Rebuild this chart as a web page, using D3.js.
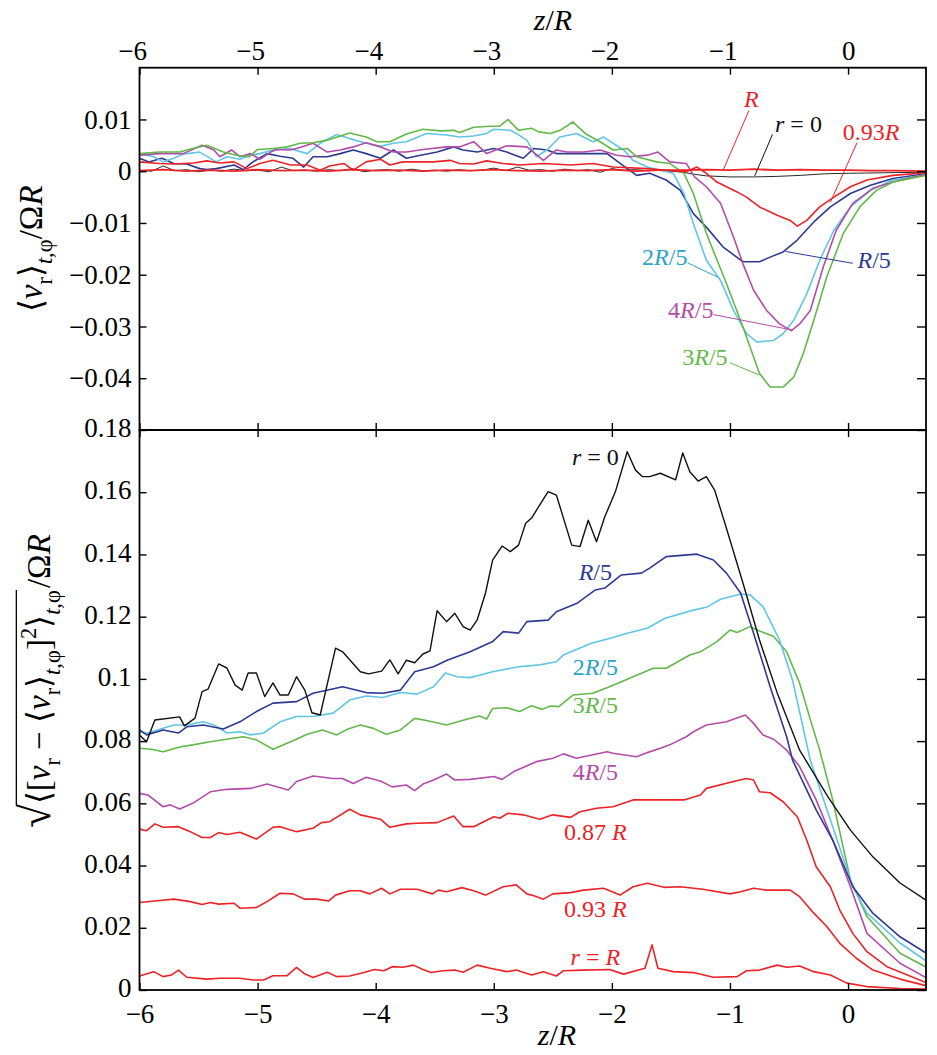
<!DOCTYPE html>
<html>
<head>
<meta charset="utf-8">
<script src="https://cdnjs.cloudflare.com/ajax/libs/d3/7.8.5/d3.min.js"></script>
<style>
  body { margin: 0; background: #fff; }
</style>
</head>
<body>
<div id="chart"></div>
<script>
// axis ticks
const zTicks = [-6, -5, -4, -3, -2, -1, 0]
const zTickLabels = ['−6', '−5', '−4', '−3', '−2', '−1', '0']
const meanTicks = [0.01, 0, -0.01, -0.02, -0.03, -0.04]
const meanTickLabels = ['0.01', '0', '−0.01', '−0.02', '−0.03', '−0.04']
const rmsTicks = [0, 0.02, 0.04, 0.06, 0.08, 0.1, 0.12, 0.14, 0.16, 0.18]
const rmsTickLabels = ['0', '0.02', '0.04', '0.06', '0.08', '0.1', '0.12', '0.14', '0.16', '0.18']

// top panel: <v_r>/(Omega R) against z/R, one list of [z, v] per radius
const meanR = [[-6, 0.0001], [-5.8, 0.0003], [-5.6, 0], [-5.4, 0.0002], [-5.2, 0], [-5, 0.0003], [-4.8, 0.0001], [-4.6, 0.0002], [-4.4, 0], [-4.2, 0.0003], [-4, 0.0001], [-3.8, 0.0002], [-3.6, 0], [-3.4, 0.0002], [-3.2, 0.0001], [-3, 0.0003], [-2.8, 0.0001], [-2.6, 0], [-2.4, 0.0002], [-2.2, 0.0001], [-2, 0.0003], [-1.8, 0], [-1.6, 0.0002], [-1.4, 0.0002], [-1.2, 0.0003], [-1, 0.0002], [-0.8, 0.0004], [-0.6, 0.0002], [-0.4, 0.0003], [-0.2, 0.0002], [0, 0.0002], [0.2, 0.0001], [0.4, 0.0001], [0.66, 0]]
const meanR0 = [[-6, 0.0002], [-5.9, 0], [-5.8, 0.001], [-5.7, 0.0001], [-5.6, 0.0003], [-5.5, -0.0001], [-5.4, 0.0002], [-5.3, 0], [-5.2, 0.0004], [-5.1, 0.0001], [-5, 0.0002], [-4.9, -0.0001], [-4.8, 0.0008], [-4.7, 0.0001], [-4.6, 0.0002], [-4.5, 0], [-4.4, 0.0003], [-4.3, 0.0001], [-4.2, 0.0005], [-4.1, -0.0001], [-4, 0.0002], [-3.9, 0.0003], [-3.8, 0], [-3.7, 0.0004], [-3.6, 0.0001], [-3.5, 0.0002], [-3.4, 0], [-3.3, 0.0003], [-3.2, 0.0001], [-3.1, 0.0002], [-3, 0.0006], [-2.9, 0.0001], [-2.8, 0.0008], [-2.7, 0.0002], [-2.6, 0.0003], [-2.5, 0], [-2.4, 0.0004], [-2.3, 0.0001], [-2.2, 0.0003], [-2.1, -0.0002], [-2, 0.0005], [-1.9, 0.0002], [-1.8, 0.0003], [-1.7, 0.0001], [-1.6, 0.0002], [-1.5, 0], [-1.4, -0.0002], [-1.3, -0.0006], [-1.2, -0.0009], [-1, -0.0011], [-0.8, -0.0011], [-0.6, -0.001], [-0.4, -0.0008], [-0.2, -0.0005], [0, -0.0004], [0.3, -0.0003], [0.66, -0.0002]]
const meanR093 = [[-6, 0.0018], [-5.83, 0.0015], [-5.71, 0.0014], [-5.54, 0.0016], [-5.43, 0.002], [-5.32, 0.0016], [-5.2, 0.0018], [-5.09, 0.0005], [-4.98, 0.0015], [-4.87, 0.0021], [-4.72, 0.0012], [-4.58, 0.0012], [-4.47, 0.0002], [-4.39, 0.001], [-4.27, 0.0015], [-4.19, 0.0002], [-4.08, 0.0018], [-3.96, 0.0023], [-3.88, 0.0012], [-3.77, 0.0018], [-3.51, 0.0018], [-3.37, 0.0021], [-3.29, 0.0015], [-3.17, 0.0014], [-3.06, 0.002], [-2.92, 0.0015], [-2.78, 0.0012], [-2.58, 0.0015], [-2.35, 0.0012], [-2.16, 0.0015], [-1.99, 0.0008], [-1.7, 0.0005], [-1.54, 0.0002], [-1.37, -0.0001], [-1.28, 0.0008], [-1.2, -0.0004], [-1.11, -0.0021], [-1.03, -0.003], [-0.94, -0.004], [-0.86, -0.005], [-0.75, -0.0069], [-0.6, -0.0085], [-0.49, -0.0095], [-0.43, -0.0106], [-0.35, -0.0095], [-0.24, -0.0069], [-0.12, -0.005], [0.02, -0.003], [0.16, -0.0017], [0.38, -0.0008], [0.66, -0.0003]]
const meanR1of5 = [[-6, 0.0025], [-5.92, 0.0018], [-5.81, 0.0025], [-5.71, 0.0015], [-5.6, 0.0014], [-5.49, 0.0005], [-5.43, 0.0003], [-5.35, 0.0005], [-5.2, 0.0012], [-5.12, 0.0003], [-5.04, 0.0018], [-4.92, 0.0034], [-4.81, 0.0029], [-4.7, 0.0025], [-4.61, 0.0008], [-4.53, 0.0028], [-4.41, 0.0028], [-4.3, 0.0034], [-4.19, 0.0041], [-4.08, 0.0034], [-3.96, 0.0025], [-3.85, 0.0041], [-3.74, 0.0025], [-3.62, 0.0031], [-3.48, 0.0037], [-3.34, 0.0047], [-3.26, 0.0041], [-3.14, 0.0037], [-3, 0.0044], [-2.89, 0.0037], [-2.75, 0.0025], [-2.66, 0.0044], [-2.55, 0.0041], [-2.47, 0.0034], [-2.21, 0.0034], [-2.04, 0.0034], [-1.93, 0.0015], [-1.79, -0.0008], [-1.68, -0.0004], [-1.54, -0.0017], [-1.42, -0.0037], [-1.31, -0.0082], [-1.2, -0.0108], [-1.06, -0.0146], [-0.89, -0.0175], [-0.75, -0.0175], [-0.66, -0.0166], [-0.55, -0.0156], [-0.43, -0.0133], [-0.29, -0.0098], [-0.15, -0.0069], [0.02, -0.0043], [0.19, -0.0027], [0.38, -0.0014], [0.66, -0.0005]]
const meanR2of5 = [[-6, 0.0034], [-5.88, 0.0028], [-5.8, 0.0018], [-5.71, 0.0025], [-5.63, 0.0033], [-5.49, 0.0037], [-5.35, 0.0018], [-5.26, 0.0028], [-5.15, 0.0023], [-5.06, 0.0031], [-4.98, 0.0034], [-4.87, 0.0041], [-4.73, 0.0044], [-4.58, 0.0034], [-4.47, 0.0054], [-4.33, 0.0071], [-4.22, 0.0063], [-4.08, 0.0054], [-3.96, 0.0048], [-3.85, 0.0054], [-3.74, 0.0057], [-3.57, 0.0073], [-3.4, 0.007], [-3.29, 0.0066], [-3.17, 0.0068], [-3.06, 0.0073], [-3, 0.0081], [-2.86, 0.0079], [-2.81, 0.0073], [-2.72, 0.006], [-2.64, 0.0028], [-2.55, 0.0041], [-2.44, 0.0066], [-2.3, 0.0073], [-2.16, 0.0057], [-2.07, 0.0066], [-1.99, 0.0054], [-1.9, 0.0041], [-1.82, 0.0021], [-1.7, 0.0008], [-1.59, 0.0002], [-1.48, -0.0004], [-1.39, -0.0043], [-1.31, -0.0101], [-1.2, -0.0172], [-1.08, -0.0211], [-0.97, -0.0269], [-0.86, -0.0314], [-0.77, -0.033], [-0.63, -0.0327], [-0.55, -0.0314], [-0.46, -0.0288], [-0.35, -0.0237], [-0.24, -0.0172], [-0.12, -0.0114], [0.02, -0.0069], [0.19, -0.0037], [0.38, -0.0017], [0.66, -0.0007]]
const meanR3of5 = [[-6, 0.0034], [-5.83, 0.0037], [-5.66, 0.0037], [-5.55, 0.0044], [-5.43, 0.005], [-5.29, 0.0037], [-5.18, 0.0031], [-5.07, 0.0028], [-5, 0.0042], [-4.87, 0.0044], [-4.75, 0.0047], [-4.64, 0.0054], [-4.53, 0.0055], [-4.41, 0.006], [-4.22, 0.0074], [-4.08, 0.0066], [-3.99, 0.0057], [-3.88, 0.0057], [-3.74, 0.0072], [-3.6, 0.0081], [-3.45, 0.0078], [-3.34, 0.0079], [-3.29, 0.0075], [-3.17, 0.0085], [-3.03, 0.0087], [-2.95, 0.0087], [-2.88, 0.01], [-2.79, 0.0079], [-2.68, 0.0083], [-2.62, 0.0076], [-2.52, 0.0073], [-2.44, 0.0079], [-2.33, 0.0095], [-2.22, 0.0072], [-2.1, 0.0057], [-1.99, 0.0041], [-1.87, 0.0044], [-1.79, 0.0028], [-1.62, 0.0018], [-1.51, 0.0015], [-1.39, -0.0004], [-1.31, -0.0043], [-1.2, -0.012], [-1.03, -0.0217], [-0.89, -0.0301], [-0.75, -0.0391], [-0.66, -0.0417], [-0.55, -0.0417], [-0.46, -0.0398], [-0.38, -0.0353], [-0.29, -0.0288], [-0.18, -0.0204], [-0.04, -0.012], [0.1, -0.0069], [0.24, -0.0037], [0.38, -0.0021], [0.66, -0.0008]]
const meanR4of5 = [[-6, 0.0031], [-5.83, 0.0034], [-5.63, 0.0034], [-5.47, 0.005], [-5.37, 0.0041], [-5.32, 0.0028], [-5.22, 0.0041], [-5.15, 0.0028], [-5.06, 0.0034], [-4.98, 0.0023], [-4.89, 0.0037], [-4.84, 0.0042], [-4.73, 0.0041], [-4.67, 0.0044], [-4.53, 0.0054], [-4.41, 0.0037], [-4.3, 0.0041], [-4.19, 0.0047], [-4.08, 0.0055], [-3.96, 0.0047], [-3.85, 0.0037], [-3.74, 0.0037], [-3.6, 0.0042], [-3.4, 0.0047], [-3.29, 0.0047], [-3.17, 0.0057], [-3.06, 0.0034], [-2.89, 0.0049], [-2.72, 0.0047], [-2.58, 0.0021], [-2.47, 0.0041], [-2.38, 0.0037], [-2.24, 0.0037], [-2.1, 0.0041], [-1.96, 0.0031], [-1.85, 0.0028], [-1.7, 0.0031], [-1.61, 0.0037], [-1.51, 0.0018], [-1.37, 0.0015], [-1.3, -0.0011], [-1.2, -0.003], [-1.08, -0.0062], [-0.97, -0.0127], [-0.89, -0.0179], [-0.8, -0.023], [-0.69, -0.0269], [-0.58, -0.0295], [-0.48, -0.0308], [-0.41, -0.0295], [-0.32, -0.0269], [-0.21, -0.0185], [-0.1, -0.0114], [0.04, -0.0062], [0.21, -0.0033], [0.38, -0.0021], [0.66, -0.0006]]

// bottom panel: rms fluctuation of v_r /(Omega R)
const rmsR0 = [[-6, 0.082], [-5.94, 0.0798], [-5.87, 0.0868], [-5.66, 0.0878], [-5.62, 0.0849], [-5.53, 0.0874], [-5.47, 0.0959], [-5.42, 0.0967], [-5.33, 0.1048], [-5.26, 0.1035], [-5.19, 0.098], [-5.13, 0.0964], [-5.08, 0.1019], [-5.01, 0.1019], [-4.94, 0.0943], [-4.87, 0.0987], [-4.81, 0.0948], [-4.74, 0.0948], [-4.67, 0.1007], [-4.6, 0.0964], [-4.54, 0.0891], [-4.47, 0.0884], [-4.34, 0.1099], [-4.28, 0.1087], [-4.13, 0.1023], [-4.06, 0.1016], [-3.95, 0.1025], [-3.88, 0.1061], [-3.81, 0.1016], [-3.74, 0.106], [-3.67, 0.1052], [-3.6, 0.108], [-3.54, 0.109], [-3.48, 0.1219], [-3.4, 0.1184], [-3.33, 0.1211], [-3.26, 0.1168], [-3.2, 0.1157], [-3.14, 0.119], [-3.07, 0.1276], [-3.01, 0.1382], [-2.93, 0.1427], [-2.86, 0.1409], [-2.79, 0.143], [-2.73, 0.15], [-2.68, 0.1517], [-2.54, 0.1602], [-2.47, 0.1591], [-2.34, 0.143], [-2.27, 0.1425], [-2.2, 0.151], [-2.13, 0.1441], [-2.06, 0.1521], [-1.97, 0.1602], [-1.87, 0.173], [-1.8, 0.1671], [-1.74, 0.165], [-1.68, 0.165], [-1.59, 0.1661], [-1.46, 0.164], [-1.4, 0.1726], [-1.34, 0.1666], [-1.27, 0.1636], [-1.2, 0.165], [-1.13, 0.1607], [-1.03, 0.1484], [-0.89, 0.1308], [-0.75, 0.1125], [-0.6, 0.0955], [-0.41, 0.0771], [-0.17, 0.0621], [0.02, 0.0514], [0.21, 0.0428], [0.44, 0.0344], [0.66, 0.0289]]
const rmsR1of5 = [[-6, 0.0836], [-5.94, 0.082], [-5.8, 0.0836], [-5.67, 0.0826], [-5.6, 0.0846], [-5.46, 0.0852], [-5.29, 0.0839], [-5.15, 0.0862], [-5.01, 0.0895], [-4.87, 0.0922], [-4.67, 0.0927], [-4.53, 0.0954], [-4.28, 0.0975], [-4.08, 0.0956], [-3.94, 0.0954], [-3.79, 0.0964], [-3.67, 0.1023], [-3.51, 0.1039], [-3.39, 0.1061], [-3.2, 0.1087], [-3.01, 0.112], [-2.92, 0.1152], [-2.79, 0.1147], [-2.72, 0.1184], [-2.54, 0.1189], [-2.47, 0.1216], [-2.29, 0.1244], [-2.14, 0.1286], [-2.06, 0.1292], [-1.92, 0.1334], [-1.75, 0.134], [-1.68, 0.1356], [-1.54, 0.1393], [-1.28, 0.1401], [-1.14, 0.1382], [-1.03, 0.134], [-0.91, 0.1276], [-0.8, 0.1147], [-0.66, 0.0975], [-0.52, 0.0814], [-0.47, 0.0739], [-0.27, 0.0579], [-0.13, 0.0482], [0.04, 0.0332], [0.21, 0.0247], [0.44, 0.0171], [0.66, 0.0119]]
const rmsR2of5 = [[-6, 0.083], [-5.93, 0.0826], [-5.71, 0.0852], [-5.6, 0.0852], [-5.46, 0.0862], [-5.37, 0.0852], [-5.26, 0.0826], [-5.15, 0.083], [-5.06, 0.082], [-4.95, 0.0826], [-4.81, 0.0862], [-4.67, 0.0879], [-4.53, 0.0879], [-4.36, 0.089], [-4.22, 0.0932], [-4.08, 0.0945], [-3.94, 0.094], [-3.79, 0.0956], [-3.65, 0.0951], [-3.51, 0.0975], [-3.41, 0.1019], [-3.31, 0.1007], [-3.2, 0.1004], [-3.01, 0.1023], [-2.79, 0.1039], [-2.61, 0.1045], [-2.47, 0.1055], [-2.41, 0.1077], [-2.18, 0.1114], [-2.02, 0.113], [-1.87, 0.1147], [-1.7, 0.1163], [-1.55, 0.1195], [-1.31, 0.1221], [-1.2, 0.123], [-1.08, 0.1256], [-0.91, 0.1273], [-0.83, 0.127], [-0.72, 0.1232], [-0.58, 0.1125], [-0.47, 0.0996], [-0.32, 0.0739], [-0.13, 0.0525], [0.04, 0.0332], [0.16, 0.0247], [0.44, 0.0151], [0.66, 0.0094]]
const rmsR3of5 = [[-6, 0.0777], [-5.9, 0.0774], [-5.8, 0.0766], [-5.65, 0.0782], [-5.55, 0.0788], [-5.4, 0.0798], [-5.21, 0.0809], [-5.12, 0.0814], [-5.01, 0.0804], [-4.87, 0.0774], [-4.7, 0.0801], [-4.58, 0.0822], [-4.45, 0.0836], [-4.33, 0.082], [-4.24, 0.0838], [-4.13, 0.0852], [-4.02, 0.0841], [-3.91, 0.0822], [-3.79, 0.0836], [-3.67, 0.0873], [-3.57, 0.0866], [-3.4, 0.0852], [-3.23, 0.087], [-3.12, 0.0881], [-3.06, 0.0871], [-3.01, 0.0905], [-2.89, 0.0907], [-2.78, 0.0895], [-2.68, 0.0914], [-2.59, 0.0902], [-2.52, 0.0913], [-2.45, 0.0911], [-2.33, 0.0948], [-2.16, 0.0954], [-2.02, 0.0975], [-1.82, 0.1007], [-1.65, 0.1034], [-1.54, 0.1034], [-1.34, 0.1077], [-1.25, 0.1087], [-1.11, 0.112], [-1, 0.1157], [-0.94, 0.1149], [-0.83, 0.1168], [-0.77, 0.1157], [-0.63, 0.1136], [-0.52, 0.1087], [-0.41, 0.0986], [-0.31, 0.0857], [-0.24, 0.0771], [-0.13, 0.0611], [0.02, 0.0354], [0.16, 0.0236], [0.44, 0.0118], [0.66, 0.0074]]
const rmsR4of5 = [[-6, 0.0632], [-5.93, 0.0627], [-5.8, 0.0589], [-5.74, 0.0595], [-5.66, 0.0582], [-5.55, 0.06], [-5.4, 0.0637], [-5.26, 0.0645], [-5.06, 0.0648], [-4.92, 0.0662], [-4.74, 0.0643], [-4.67, 0.067], [-4.53, 0.0688], [-4.36, 0.068], [-4.28, 0.068], [-4.19, 0.0664], [-4.08, 0.0684], [-3.96, 0.0672], [-3.86, 0.0653], [-3.74, 0.0659], [-3.67, 0.0641], [-3.6, 0.0662], [-3.51, 0.0675], [-3.4, 0.0694], [-3.33, 0.0675], [-3.2, 0.0677], [-3, 0.0686], [-2.93, 0.0677], [-2.83, 0.0702], [-2.64, 0.0734], [-2.5, 0.0745], [-2.41, 0.0759], [-2.3, 0.0745], [-2.04, 0.0766], [-1.99, 0.0761], [-1.79, 0.075], [-1.7, 0.0763], [-1.59, 0.0777], [-1.51, 0.0788], [-1.37, 0.0814], [-1.31, 0.083], [-1.2, 0.0852], [-1.03, 0.0862], [-0.87, 0.0884], [-0.8, 0.0857], [-0.72, 0.082], [-0.63, 0.0806], [-0.52, 0.0771], [-0.41, 0.0718], [-0.27, 0.0611], [-0.12, 0.0472], [0.02, 0.0332], [0.16, 0.0182], [0.44, 0.0086], [0.66, 0.004]]
const rmsR087 = [[-6, 0.0517], [-5.94, 0.0512], [-5.87, 0.0534], [-5.8, 0.0523], [-5.67, 0.0525], [-5.57, 0.0509], [-5.47, 0.049], [-5.4, 0.049], [-5.33, 0.0506], [-5.26, 0.05], [-5.15, 0.0507], [-5.01, 0.0485], [-4.87, 0.0523], [-4.81, 0.0525], [-4.67, 0.0509], [-4.53, 0.052], [-4.46, 0.0538], [-4.39, 0.0541], [-4.22, 0.0581], [-4.13, 0.0563], [-3.96, 0.0549], [-3.88, 0.0523], [-3.74, 0.0534], [-3.65, 0.0536], [-3.48, 0.0538], [-3.34, 0.0559], [-3.26, 0.0525], [-3.17, 0.0525], [-3, 0.0557], [-2.95, 0.0552], [-2.88, 0.0568], [-2.75, 0.0563], [-2.61, 0.0549], [-2.5, 0.0563], [-2.35, 0.0555], [-2.27, 0.0573], [-2.13, 0.0584], [-1.99, 0.0589], [-1.82, 0.0611], [-1.62, 0.0611], [-1.39, 0.0611], [-1.25, 0.0627], [-1.2, 0.0648], [-0.97, 0.067], [-0.86, 0.068], [-0.8, 0.0675], [-0.75, 0.0637], [-0.66, 0.0634], [-0.55, 0.0605], [-0.43, 0.0557], [-0.35, 0.0482], [-0.27, 0.0396], [-0.15, 0.0332], [-0.07, 0.0257], [0.04, 0.0182], [0.16, 0.0123], [0.33, 0.0075], [0.66, 0.0024]]
const rmsR093 = [[-6, 0.0281], [-5.85, 0.0287], [-5.71, 0.0292], [-5.57, 0.0284], [-5.47, 0.0275], [-5.4, 0.0281], [-5.33, 0.0276], [-5.2, 0.0279], [-5.15, 0.0263], [-5.01, 0.0265], [-4.92, 0.0284], [-4.81, 0.0311], [-4.7, 0.0309], [-4.6, 0.0292], [-4.5, 0.0292], [-4.4, 0.0286], [-4.34, 0.0305], [-4.22, 0.0319], [-4.13, 0.0319], [-4.05, 0.0309], [-3.95, 0.0327], [-3.88, 0.0309], [-3.79, 0.0324], [-3.65, 0.0324], [-3.52, 0.0309], [-3.47, 0.0321], [-3.4, 0.0316], [-3.27, 0.0329], [-3.17, 0.0319], [-3.07, 0.0305], [-2.92, 0.0332], [-2.81, 0.0338], [-2.72, 0.0309], [-2.66, 0.0303], [-2.58, 0.0292], [-2.5, 0.0309], [-2.35, 0.0313], [-2.24, 0.0321], [-2.07, 0.0327], [-1.93, 0.0305], [-1.82, 0.0332], [-1.7, 0.0343], [-1.56, 0.033], [-1.42, 0.0332], [-1.23, 0.0324], [-1, 0.0309], [-0.91, 0.0316], [-0.8, 0.0327], [-0.69, 0.0321], [-0.49, 0.0321], [-0.41, 0.03], [-0.29, 0.0247], [-0.18, 0.0204], [-0.07, 0.015], [0.07, 0.0102], [0.21, 0.0064], [0.44, 0.0035], [0.66, 0.0014]]
const rmsR = [[-6, 0.0045], [-5.88, 0.0059], [-5.8, 0.0043], [-5.73, 0.0048], [-5.67, 0.0064], [-5.6, 0.0041], [-5.43, 0.0035], [-5.32, 0.0038], [-5.15, 0.0038], [-5.04, 0.0032], [-4.95, 0.0032], [-4.87, 0.0046], [-4.75, 0.0046], [-4.67, 0.0073], [-4.61, 0.0054], [-4.53, 0.004], [-4.41, 0.0057], [-4.33, 0.0043], [-4.22, 0.0045], [-4.1, 0.0056], [-4.01, 0.0066], [-3.93, 0.0062], [-3.86, 0.0075], [-3.77, 0.0073], [-3.68, 0.008], [-3.6, 0.0066], [-3.53, 0.0056], [-3.43, 0.0062], [-3.33, 0.0064], [-3.26, 0.0057], [-3.14, 0.008], [-3.03, 0.007], [-2.89, 0.0059], [-2.81, 0.0064], [-2.68, 0.0048], [-2.58, 0.0059], [-2.47, 0.0045], [-2.41, 0.0062], [-2.24, 0.0064], [-2.02, 0.0066], [-1.9, 0.0051], [-1.76, 0.0066], [-1.72, 0.007], [-1.66, 0.0145], [-1.61, 0.007], [-1.48, 0.0059], [-1.31, 0.0056], [-1.14, 0.0041], [-0.94, 0.0043], [-0.86, 0.0062], [-0.75, 0.0064], [-0.6, 0.008], [-0.52, 0.0073], [-0.41, 0.0077], [-0.29, 0.0059], [-0.15, 0.0048], [-0.01, 0.0022], [0.16, 0.0011], [0.44, 0.0005], [0.66, 0.0003]]

const red = '#ec2227'
const black = '#111111'
const blue = '#2e3a92'
const cyan = '#5fc6e3'
const green = '#63b84a'
const magenta = '#b34ca9'

const serif = '"Liberation Serif"'

const width = 937
const height = 1055
const frame = { left: 139.5, right: 926, top: 67.7, mid: 430, bottom: 990 }

const svg = d3
  .select('#chart')
  .append('svg')
  .attr('width', width)
  .attr('height', height)
  .style('font-family', serif)

const xPositionScale = d3.scaleLinear().domain([-6, 0.66]).range([frame.left, frame.right])
const yMeanScale = d3.scaleLinear().domain([-0.05, 0.02]).range([frame.mid, frame.top])
const yRmsScale = d3.scaleLinear().domain([0, 0.18]).range([frame.bottom, frame.mid])

// clip each panel
const defs = svg.append('defs')
defs.append('clipPath').attr('id', 'clip-top')
  .append('rect')
  .attr('x', frame.left).attr('y', frame.top)
  .attr('width', frame.right - frame.left).attr('height', frame.mid - frame.top)
defs.append('clipPath').attr('id', 'clip-bottom')
  .append('rect')
  .attr('x', frame.left).attr('y', frame.mid)
  .attr('width', frame.right - frame.left).attr('height', frame.bottom - frame.mid)

const meanLine = d3.line().x(d => xPositionScale(d[0])).y(d => yMeanScale(d[1]))
const rmsLine = d3.line().x(d => xPositionScale(d[0])).y(d => yRmsScale(d[1]))

const meanSeries = [
  { values: meanR0, color: black, w: 0.9 },
  { values: meanR1of5, color: blue, w: 1.6 },
  { values: meanR2of5, color: cyan, w: 1.6 },
  { values: meanR4of5, color: magenta, w: 1.6 },
  { values: meanR3of5, color: green, w: 1.6 },
  { values: meanR093, color: red, w: 1.6 },
  { values: meanR, color: red, w: 1.8 }
]
const rmsSeries = [
  { values: rmsR, color: red, w: 1.6 },
  { values: rmsR093, color: red, w: 1.6 },
  { values: rmsR087, color: red, w: 1.6 },
  { values: rmsR4of5, color: magenta, w: 1.6 },
  { values: rmsR3of5, color: green, w: 1.6 },
  { values: rmsR2of5, color: cyan, w: 1.6 },
  { values: rmsR1of5, color: blue, w: 1.6 },
  { values: rmsR0, color: black, w: 1.4 }
]

svg.append('g').attr('clip-path', 'url(#clip-top)')
  .selectAll('path')
  .data(meanSeries)
  .enter()
  .append('path')
  .attr('d', d => meanLine(d.values))
  .attr('fill', 'none')
  .attr('stroke', d => d.color)
  .attr('stroke-width', d => d.w)
  .attr('stroke-linejoin', 'round')

svg.append('g').attr('clip-path', 'url(#clip-bottom)')
  .selectAll('path')
  .data(rmsSeries)
  .enter()
  .append('path')
  .attr('d', d => rmsLine(d.values))
  .attr('fill', 'none')
  .attr('stroke', d => d.color)
  .attr('stroke-width', d => d.w)
  .attr('stroke-linejoin', 'round')

// axes, ticks point inward
const tickFont = 27
function styleAxis(g) {
  g.attr('font-size', tickFont).attr('font-family', serif)
  g.select('.domain').remove()
  g.selectAll('line').attr('stroke', '#000').attr('stroke-width', 1.4)
  g.selectAll('text').attr('fill', '#000').style('font-family', serif)
}

svg.append('g')
  .attr('transform', 'translate(0,' + frame.top + ')')
  .call(d3.axisTop(xPositionScale).tickValues(zTicks).tickSize(-7).tickPadding(8)
    .tickFormat((d, i) => zTickLabels[i]))
  .call(styleAxis)
  .call(g => g.selectAll('text').attr('text-anchor', 'end').attr('dx', 7))

svg.append('g')
  .attr('transform', 'translate(0,' + frame.mid + ')')
  .call(d3.axisBottom(xPositionScale).tickValues(zTicks).tickSize(-7).tickFormat(''))
  .call(styleAxis)
svg.append('g')
  .attr('transform', 'translate(0,' + frame.mid + ')')
  .call(d3.axisTop(xPositionScale).tickValues(zTicks).tickSize(-7).tickFormat(''))
  .call(styleAxis)

svg.append('g')
  .attr('transform', 'translate(0,' + frame.bottom + ')')
  .call(d3.axisBottom(xPositionScale).tickValues(zTicks).tickSize(-7).tickPadding(14)
    .tickFormat((d, i) => zTickLabels[i]))
  .call(styleAxis)

svg.append('g')
  .attr('transform', 'translate(' + frame.left + ',0)')
  .call(d3.axisLeft(yMeanScale).tickValues(meanTicks).tickSize(-7).tickPadding(8)
    .tickFormat((d, i) => meanTickLabels[i]))
  .call(styleAxis)
svg.append('g')
  .attr('transform', 'translate(' + frame.right + ',0)')
  .call(d3.axisRight(yMeanScale).tickValues(meanTicks).tickSize(-9).tickFormat(''))
  .call(styleAxis)

svg.append('g')
  .attr('transform', 'translate(' + frame.left + ',0)')
  .call(d3.axisLeft(yRmsScale).tickValues(rmsTicks).tickSize(-7).tickPadding(8)
    .tickFormat((d, i) => rmsTickLabels[i]))
  .call(styleAxis)
  .call(g => g.selectAll('text').attr('dy', '0.25em'))
svg.append('g')
  .attr('transform', 'translate(' + frame.right + ',0)')
  .call(d3.axisRight(yRmsScale).tickValues(rmsTicks).tickSize(-9).tickFormat(''))
  .call(styleAxis)

// panel frames
svg.append('rect')
  .attr('x', frame.left).attr('y', frame.top)
  .attr('width', frame.right - frame.left).attr('height', frame.mid - frame.top)
  .attr('fill', 'none').attr('stroke', '#000').attr('stroke-width', 1.8)
svg.append('rect')
  .attr('x', frame.left).attr('y', frame.mid)
  .attr('width', frame.right - frame.left).attr('height', frame.bottom - frame.mid)
  .attr('fill', 'none').attr('stroke', '#000').attr('stroke-width', 1.8)

// text made of pieces: flags i = italic, s = subscript, p = superscript
function rich(text, parts, fs) {
  let shift = 0
  text.style('font-family', serif).attr('font-size', fs)
  parts.forEach(p => {
    const f = p[1]
    const small = f.includes('s') || f.includes('p')
    const target = f.includes('s') ? fs * 0.3 : f.includes('p') ? -fs * 0.42 : 0
    text.append('tspan')
      .text(p[0])
      .attr('dy', target - shift)
      .attr('font-size', small ? fs * 0.68 : fs)
      .attr('font-style', f.includes('i') ? 'italic' : 'normal')
    shift = target
  })
  return text
}

// curve labels with leader lines
const labelFont = 24
const meanNotes = [
  { parts: [['R', 'i']], at: [-0.82, 0.0124], anchor: 'middle', color: red, lead: [[-0.84, 0.0117], [-1.06, 0.0001]] },
  { parts: [['r', 'i'], [' = 0', '']], at: [-0.42, 0.0075], anchor: 'middle', color: black, lead: [[-0.64, 0.0071], [-0.79, -0.0009]] },
  { parts: [['0.93', ''], ['R', 'i']], at: [0.195, 0.006], anchor: 'middle', color: red, lead: [[0.076, 0.0055], [-0.15, -0.006]] },
  { parts: [['R', 'i'], ['/5', '']], at: [0.08, -0.0187], anchor: 'start', color: blue, lead: [[0.04, -0.0178], [-0.53, -0.0155]] },
  { parts: [['2', ''], ['R', 'i'], ['/5', '']], at: [-1.36, -0.0182], anchor: 'end', color: '#2aa3cc', lead: [[-1.36, -0.0177], [-1.1, -0.0205]] },
  { parts: [['4', ''], ['R', 'i'], ['/5', '']], at: [-1.14, -0.0284], anchor: 'end', color: magenta, lead: [[-1.14, -0.0277], [-0.47, -0.0307]] },
  { parts: [['3', ''], ['R', 'i'], ['/5', '']], at: [-1.02, -0.0375], anchor: 'end', color: green, lead: [[-1.0, -0.037], [-0.75, -0.0394]] }
]
const rmsNotes = [
  { parts: [['r', 'i'], [' = 0', '']], at: [-2.14, 0.1688], color: black },
  { parts: [['R', 'i'], ['/5', '']], at: [-2.14, 0.1318], color: blue },
  { parts: [['2', ''], ['R', 'i'], ['/5', '']], at: [-2.14, 0.1013], color: '#2aa3cc' },
  { parts: [['3', ''], ['R', 'i'], ['/5', '']], at: [-2.14, 0.089], color: green },
  { parts: [['4', ''], ['R', 'i'], ['/5', '']], at: [-2.14, 0.0675], color: magenta },
  { parts: [['0.87 ', ''], ['R', 'i']], at: [-2.14, 0.0482], color: red },
  { parts: [['0.93 ', ''], ['R', 'i']], at: [-2.14, 0.0235], color: red },
  { parts: [['r', 'i'], [' = ', ''], ['R', 'i']], at: [-2.14, 0.008], color: red }
]

meanNotes.forEach(n => {
  svg.append('line')
    .attr('x1', xPositionScale(n.lead[0][0])).attr('y1', yMeanScale(n.lead[0][1]))
    .attr('x2', xPositionScale(n.lead[1][0])).attr('y2', yMeanScale(n.lead[1][1]))
    .attr('stroke', n.color).attr('stroke-width', 1)
  const t = svg.append('text')
    .attr('x', xPositionScale(n.at[0])).attr('y', yMeanScale(n.at[1]))
    .attr('text-anchor', n.anchor).attr('fill', n.color)
  rich(t, n.parts, labelFont)
})
rmsNotes.forEach(n => {
  const t = svg.append('text')
    .attr('x', xPositionScale(n.at[0])).attr('y', yRmsScale(n.at[1]))
    .attr('text-anchor', 'middle').attr('fill', n.color)
  rich(t, n.parts, labelFont)
})

// axis titles
const zTitle = [['z', 'i'], ['/', ''], ['R', 'i']]
rich(svg.append('text').attr('x', 553).attr('y', 30).attr('text-anchor', 'middle'), zTitle, 30)
rich(svg.append('text').attr('x', 557).attr('y', 1045).attr('text-anchor', 'middle'), zTitle, 30)

const meanTitle = [['⟨', ''], ['v', 'i'], ['r', 's'], ['⟩', ''], ['t', 'is'], [',φ', 's'], ['/Ω', ''], ['R', 'i']]
const gMean = svg.append('g')
  .attr('transform', 'translate(42,' + (frame.top + frame.mid) / 2 + ') rotate(-90)')
rich(gMean.append('text').attr('text-anchor', 'middle'), meanTitle, 33)

const rmsInner = [['⟨[', ''], ['v', 'i'], ['r', 's'], [' − ⟨', ''], ['v', 'i'], ['r', 's'], ['⟩', ''], ['t', 'is'], [',φ', 's'], [']', ''], ['2', 'p'], ['⟩', ''], ['t', 'is'], [',φ', 's']]
const rmsOuter = [['/Ω', ''], ['R', 'i']]
const rfs = 33
const gRms = svg.append('g').attr('transform', 'translate(50,682) rotate(-90)')
const rad = gRms.append('text').text('√').attr('font-size', rfs * 1.3).style('font-family', serif)
const inner = rich(gRms.append('text'), rmsInner, rfs)
const outer = rich(gRms.append('text'), rmsOuter, rfs)
const wr = rad.node().getComputedTextLength()
const wi = inner.node().getComputedTextLength()
const wo = outer.node().getComputedTextLength()
const x0 = -(wr + wi + wo) / 2
rad.attr('x', x0)
inner.attr('x', x0 + wr)
outer.attr('x', x0 + wr + wi + 2)
gRms.append('line')
  .attr('x1', x0 + wr - 1).attr('x2', x0 + wr + wi)
  .attr('y1', -rfs * 1.02).attr('y2', -rfs * 1.02)
  .attr('stroke', '#000').attr('stroke-width', 1.3)
</script>
</body>
</html>
